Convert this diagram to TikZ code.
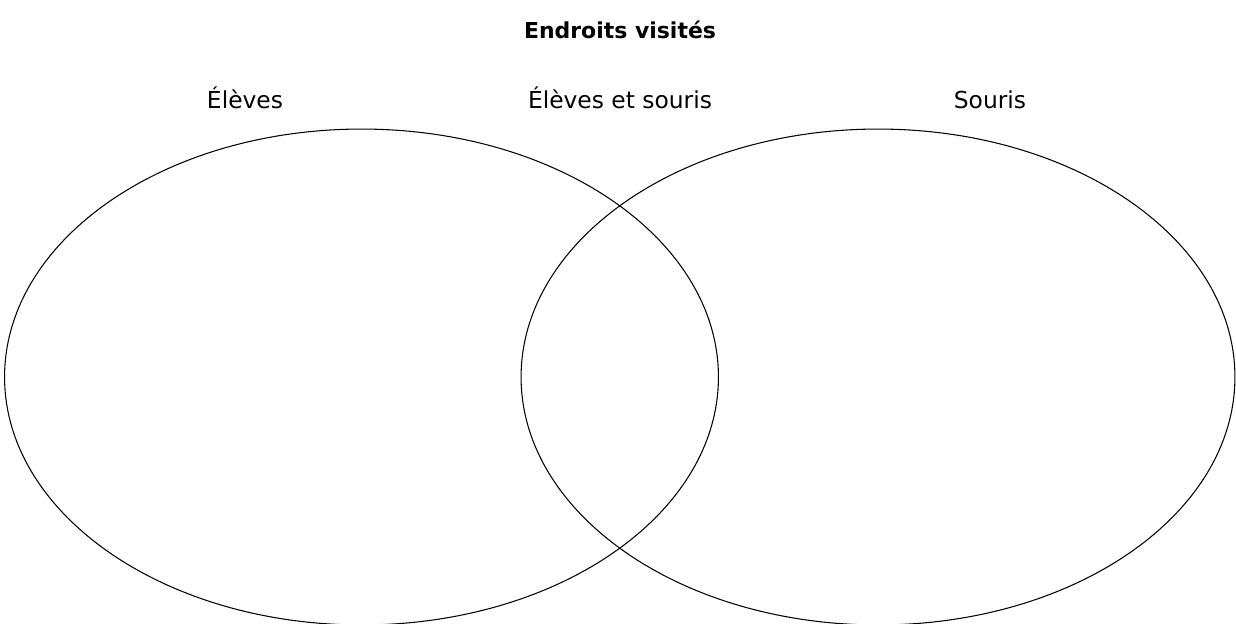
\documentclass[tikz,border=0pt]{standalone}
\usepackage{fontspec}
\setmainfont{DejaVu Sans}
\usetikzlibrary{positioning,shapes.geometric}
\tikzset{
  setbox/.style={
    draw=black,
    ellipse,
    line width=0.6pt,
    inner sep=0pt,
    minimum width=14.28cm,
    minimum height=9.92cm
  },
  setlabel/.style={font=\fontsize{13.3}{15}\selectfont, anchor=base},
  heading/.style={font=\fontsize{12.5}{14}\selectfont\bfseries, anchor=base}
}

\begin{document}
\begin{tikzpicture}[x=0.02cm,y=-0.02cm]
        \useasboundingbox (0,0) rectangle (1236,623);
        \node[heading] (titre) at (620,38) {Endroits visités};
        \node[setbox] (eleves) at (361.5,377) {};
        \node[setbox] (souris) at (878,377) {};
        \node[setlabel] (leleves) at (245,108) {Élèves};
        \node[setlabel] (lcommun) at (620,108) {Élèves et souris};
        \node[setlabel] (lsouris) at (990,108) {Souris};
      \end{tikzpicture}
\end{document}
